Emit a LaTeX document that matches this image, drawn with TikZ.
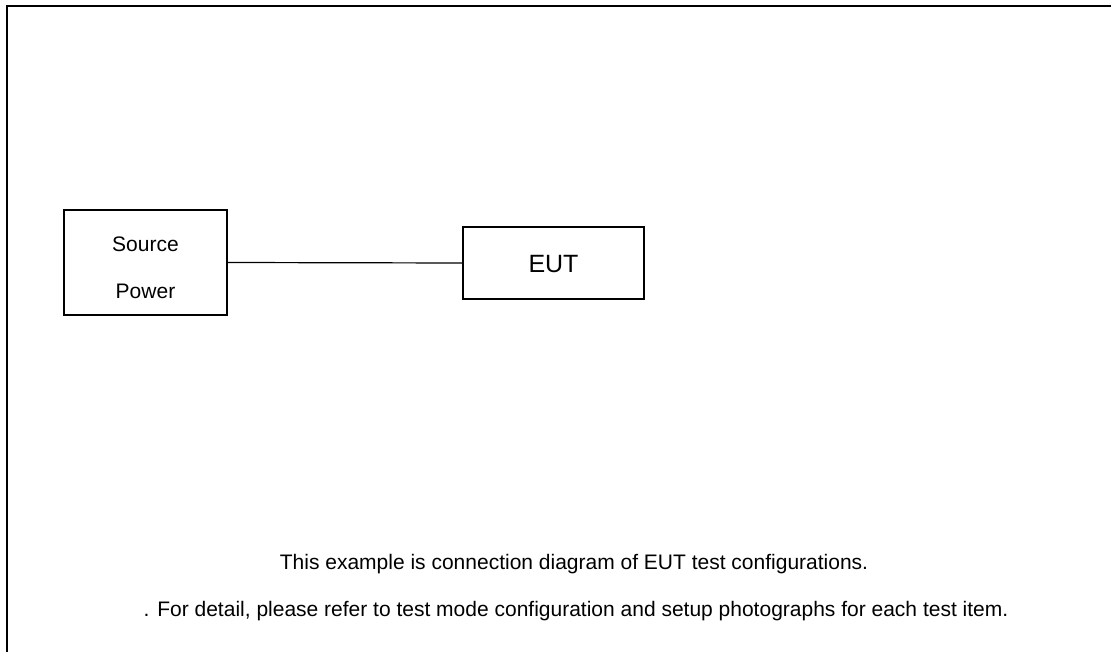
\documentclass[tikz,border=0pt]{standalone}
\usepackage{fontspec}
\setmainfont{Liberation Sans}
\begin{document}
\begin{tikzpicture}[x=1pt,y=-1pt,
  box/.style={draw=black,line width=1.2pt,inner sep=0pt},
  txt/.style={anchor=base,inner sep=0pt,font=\fontsize{21}{25}\selectfont},
  bigtxt/.style={anchor=base,inner sep=0pt,font=\fontsize{25}{30}\selectfont},
  wire/.style={draw=black,line width=1.2pt},
  frameline/.style={draw=black,line width=2.2pt}]
\useasboundingbox (0,0) rectangle (1111,652);
% outer frame (left and top edges)
\coordinate (fbl) at (7,652);
\coordinate (ftl) at (7,6);
\coordinate (ftr) at (1111,6);
\draw[frameline] (fbl) -- (ftl) -- (ftr);
% boxes
\node[box,minimum width=163pt,minimum height=105pt] (src) at (145.5,262.5) {};
\node[box,minimum width=181pt,minimum height=72pt] (eut) at (553.5,263) {};
\node[txt] (srct) at (145.5,252) {Source};
\node[txt] (powt) at (145.5,299) {Power};
\node[bigtxt] (eutt) at (553.5,273) {EUT};
% connector
\draw[wire] (src.east) -- (eut.west);
% notes
\node[txt] (n1) at (574,569) {This example is connection diagram of EUT test configurations.};
\node[txt] (n2) at (576,616) {. For detail, please refer to test mode configuration and setup photographs for each test item.};
\end{tikzpicture}
\end{document}
